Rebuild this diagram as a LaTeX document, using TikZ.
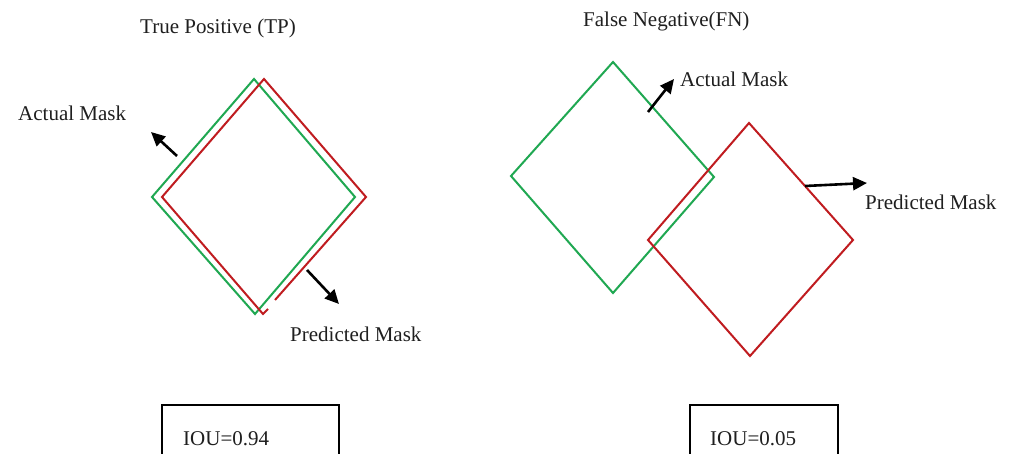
\documentclass[tikz,border=0pt]{standalone}
\usepackage{fontspec}
\setmainfont{Liberation Serif}
\usetikzlibrary{arrows.meta}
\definecolor{maskgreen}{RGB}{32,168,82}
\definecolor{maskred}{RGB}{192,28,32}
\tikzset{
  label/.style={font=\fontsize{21}{25}\selectfont, text=black!88, inner sep=0pt, anchor=base west},
  actual/.style={draw=maskgreen, line width=2pt, line join=miter},
  predicted/.style={draw=maskred, line width=2pt, line join=miter},
  pointer/.style={draw=black, line width=2.6pt, -{Triangle[length=14pt,width=13pt]}},
  scorebox/.style={draw=black, line width=2.4pt}
}
\begin{document}
\begin{tikzpicture}[x=1pt,y=-1pt]
\useasboundingbox (0,0) rectangle (1009,454);
\clip (0,0) rectangle (1009,454);
\fill[white] (0,0) rectangle (1009,454);

% ---- left panel: true positive ----
\node[label] (tptitle) at (140,34) {True Positive (TP)};
% ground-truth square
\draw[actual] (254,79) -- (355,197) -- (255,314) -- (152,197) -- cycle;
% prediction, with its small break near the bottom corner
\draw[predicted] (275,300) -- (366,197) -- (264,79) -- (162,197) -- (263,314) -- (268,309);
\node[label] (tpactual) at (18,121) {Actual Mask};
\node[label] (tppred) at (290,341) {Predicted Mask};
\coordinate (a1t) at (177,156);
\coordinate (a1h) at (151,132);
\coordinate (p1t) at (307,270);
\coordinate (p1h) at (339,304);
\draw[pointer] (a1t) -- (a1h);
\draw[pointer] (p1t) -- (p1h);
% score
\draw[scorebox] (162,460) -- (162,405) -- (339,405) -- (339,460);
\node[label] (tpscore) at (183,445) {IOU=0.94};

% ---- right panel: false negative ----
\node[label] (fntitle) at (583,27) {False Negative(FN)};
\draw[actual] (613,62) -- (714,177) -- (613,293) -- (511,176) -- cycle;
\draw[predicted] (749,123) -- (853,240) -- (750,356) -- (648,240) -- cycle;
\node[label] (fnactual) at (680,87) {Actual Mask};
\node[label] (fnpred) at (865,210) {Predicted Mask};
\coordinate (a2t) at (648,112);
\coordinate (a2h) at (674,79);
\coordinate (p2t) at (805,186);
\coordinate (p2h) at (867,183);
\draw[pointer] (a2t) -- (a2h);
\draw[pointer] (p2t) -- (p2h);
\draw[scorebox] (690,460) -- (690,405) -- (838,405) -- (838,460);
\node[label] (fnscore) at (710,445) {IOU=0.05};
\end{tikzpicture}
\end{document}
